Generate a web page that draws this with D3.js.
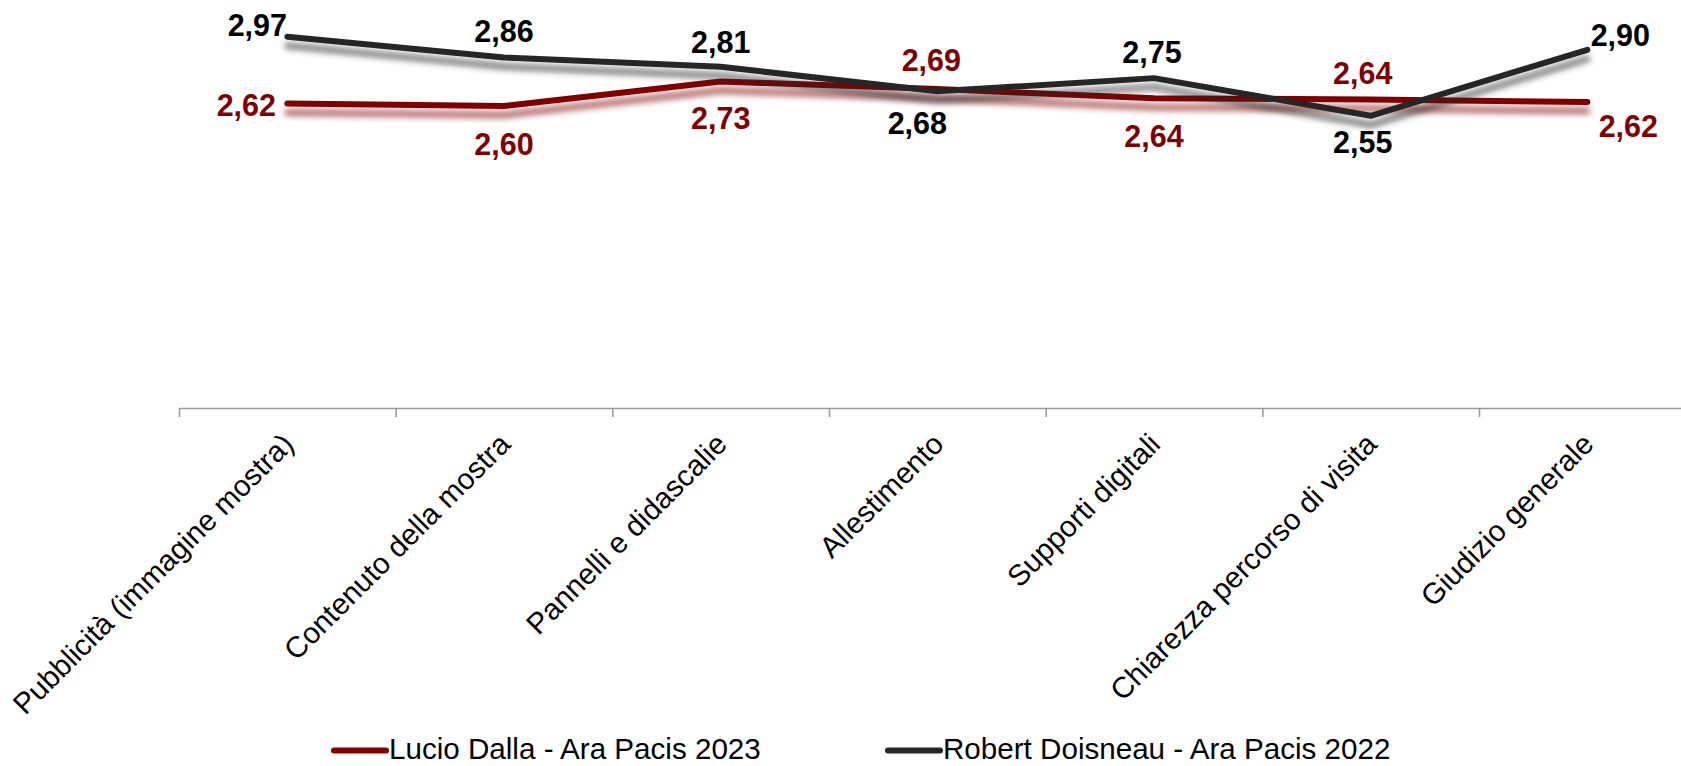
<!DOCTYPE html>
<html>
<head>
<meta charset="utf-8">
<script src="https://cdn.jsdelivr.net/npm/d3@7"></script>
<style>
  html, body { margin: 0; padding: 0; background: #fff; }
  svg { display: block; font-family: "Liberation Sans", Arial, sans-serif; }
</style>
</head>
<body>
<svg id="chart" width="1681" height="766"></svg>
<script>
// ---- data ----
const categories = [
  "Pubblicità (immagine mostra)",
  "Contenuto della mostra",
  "Pannelli e didascalie",
  "Allestimento",
  "Supporti digitali",
  "Chiarezza percorso di visita",
  "Giudizio generale"
];
const seriesNames = ["Lucio Dalla - Ara Pacis 2023", "Robert Doisneau - Ara Pacis 2022"];
const lucioDalla2023 = [2.616, 2.602, 2.732, 2.692, 2.643, 2.637, 2.623];
const robertDoisneau2022 = [2.97, 2.86, 2.81, 2.68, 2.75, 2.55, 2.90];
const yDomain = [1, 3];

// label placement (offsets of label centre from the point, px)
const redLabelOffsets = [[-41, 2], [0, 38], [0, 37], [-6, -29], [0, 38], [-8, -26], [41, 24]];
const blackLabelOffsets = [[-30, -12], [0, -26], [0, -25], [-20, 32], [-2, -26], [-8, 26], [33, -15]];

// ---- layout ----
const svg = d3.select("#chart");
const plotLeft = 179, step = 216.67, axisY = 408, plotTop = 31;
const colors = ["#800000", "#262626"];
const labelColors = ["#800000", "#000000"];

const x = d3.scaleBand().domain(categories).range([plotLeft, plotLeft + step * categories.length]).padding(0);
const xBoundary = d3.scaleLinear().domain([0, categories.length]).range([plotLeft, plotLeft + step * categories.length]);
const y = d3.scaleLinear().domain(yDomain).range([axisY, plotTop]);
const cx = c => x(c) + x.bandwidth() / 2;

// shadow filter
const defs = svg.append("defs");
const f = defs.append("filter").attr("id", "shadow").attr("x", "-5%").attr("y", "-50%").attr("width", "110%").attr("height", "300%");
f.append("feGaussianBlur").attr("in", "SourceGraphic").attr("stdDeviation", 3.3).attr("result", "b");
f.append("feOffset").attr("in", "b").attr("dx", 0).attr("dy", 9).attr("result", "o");
f.append("feComponentTransfer").attr("in", "o").attr("result", "t")
  .append("feFuncA").attr("type", "linear").attr("slope", 0.65);
const m = f.append("feMerge");
m.append("feMergeNode").attr("in", "t");
m.append("feMergeNode").attr("in", "SourceGraphic");

// x axis (ticks at category boundaries)
const axis = d3.axisBottom(xBoundary)
  .tickValues(d3.range(0, categories.length + 1))
  .tickFormat("")
  .tickSize(9)
  .tickSizeOuter(0);
const gAxis = svg.append("g").attr("transform", `translate(0,${axisY})`).call(axis);
gAxis.select(".domain").attr("stroke", "#9a9a9a").attr("stroke-width", 1.6);
gAxis.selectAll(".tick line").attr("stroke", "#9a9a9a").attr("stroke-width", 1.6);

// category labels
svg.append("g").selectAll("text").data(categories).join("text")
  .attr("transform", c => `translate(${cx(c) + 8},${axisY + 38}) rotate(-45)`)
  .attr("text-anchor", "end")
  .attr("font-size", 29.5)
  .attr("fill", "#000")
  .text(c => c);

// lines
const seriesData = [lucioDalla2023, robertDoisneau2022];
const line = d3.line().x((d, i) => cx(categories[i])).y(d => y(d));
seriesData.forEach((vals, si) => {
  svg.append("path")
    .datum(vals)
    .attr("d", line)
    .attr("fill", "none")
    .attr("stroke", colors[si])
    .attr("stroke-width", 6)
    .attr("stroke-linejoin", "round")
    .attr("stroke-linecap", "round")
    .attr("filter", "url(#shadow)");
});

// data labels
const fmt = v => d3.format(".2f")(v).replace(".", ",");
const offsets = [redLabelOffsets, blackLabelOffsets];
seriesData.forEach((vals, si) => {
  svg.append("g").selectAll("text").data(vals).join("text")
    .attr("x", (d, i) => cx(categories[i]) + offsets[si][i][0])
    .attr("y", (d, i) => y(d) + offsets[si][i][1])
    .attr("dy", "0.36em")
    .attr("text-anchor", "middle")
    .attr("font-size", 30.5)
    .attr("font-weight", "bold")
    .attr("fill", labelColors[si])
    .text(d => fmt(d));
});

// legend
const legendX = [334, 888];
const lg = svg.append("g").selectAll("g").data(seriesNames).join("g")
  .attr("transform", (d, i) => `translate(${legendX[i]},750.5)`);
lg.append("line").attr("x1", 0).attr("x2", 52).attr("y1", 0).attr("y2", 0)
  .attr("stroke", (d, i) => colors[i]).attr("stroke-width", 6).attr("stroke-linecap", "round");
lg.append("text").attr("x", 55).attr("y", 0).attr("dy", "0.3em").attr("font-size", 29.6).attr("fill", "#000").text(d => d);
</script>
</body>
</html>
